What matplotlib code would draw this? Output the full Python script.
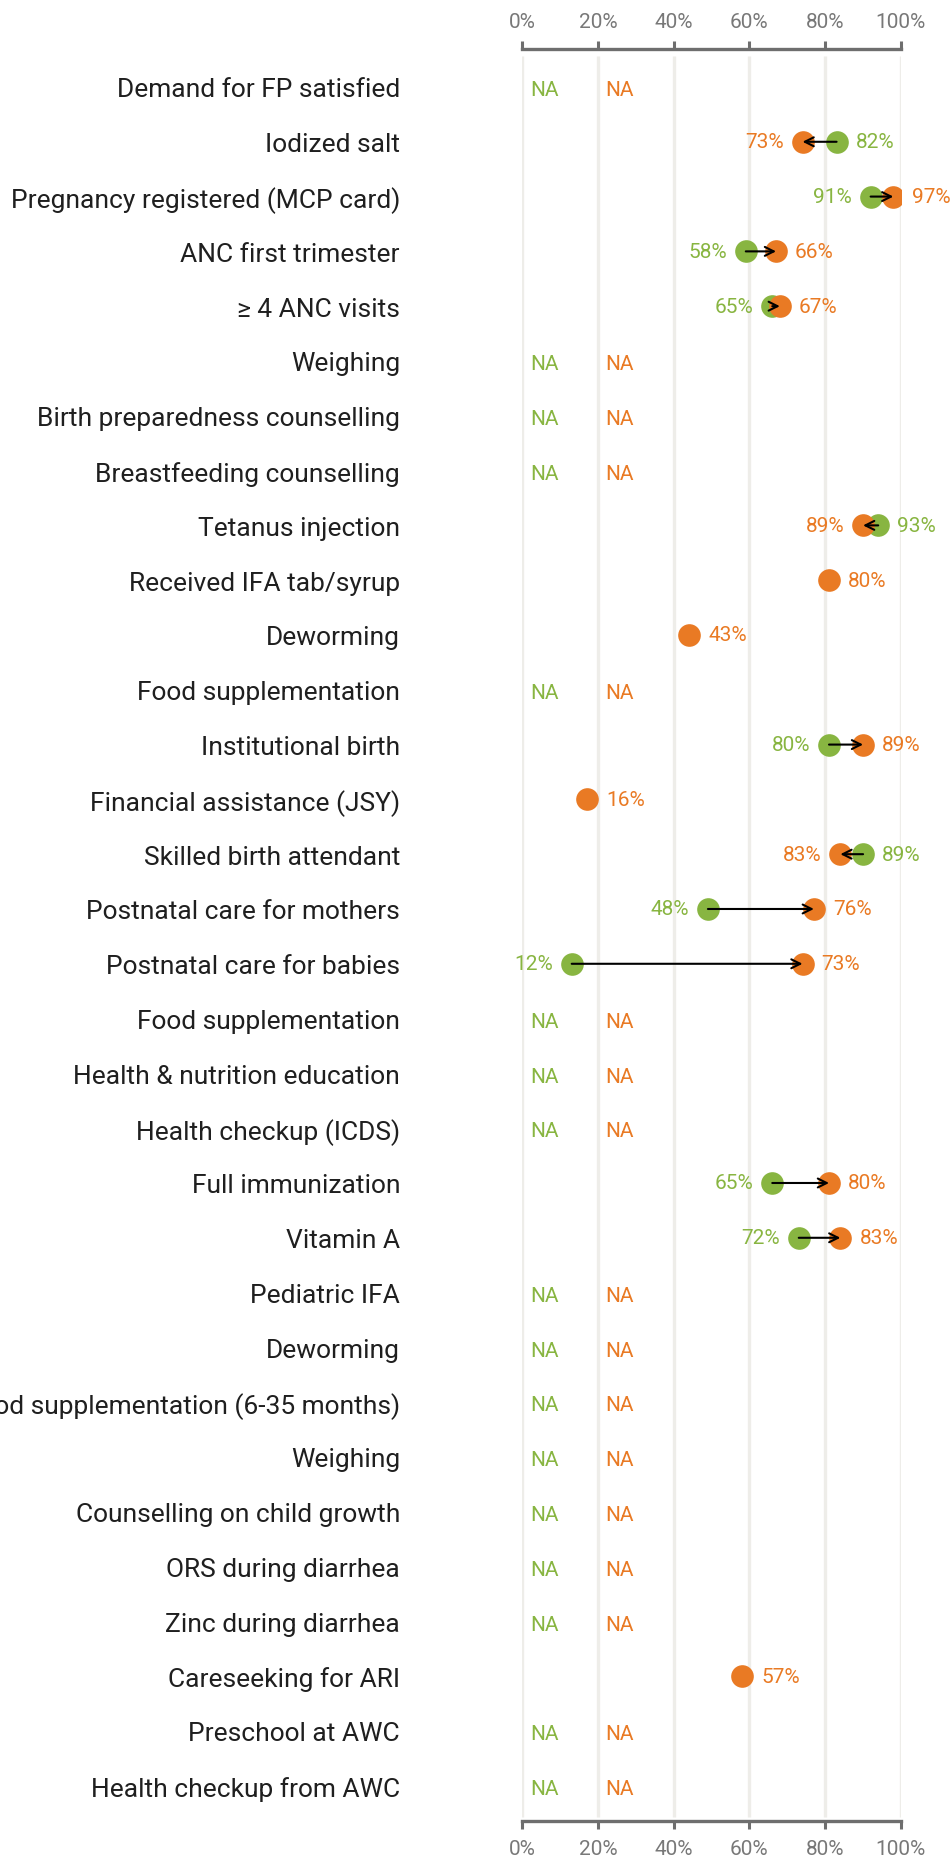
import matplotlib
matplotlib.use('Agg')
import matplotlib.pyplot as plt
from matplotlib.transforms import ScaledTranslation, blended_transform_factory

plt.rcParams['font.family'] = ['Roboto', 'DejaVu Sans']

categories = [
    "Demand for FP satisfied", "Iodized salt", "Pregnancy registered (MCP card)",
    "ANC first trimester", "\u2265 4 ANC visits", "Weighing",
    "Birth preparedness counselling", "Breastfeeding counselling", "Tetanus injection",
    "Received IFA tab/syrup", "Deworming", "Food supplementation",
    "Institutional birth", "Financial assistance (JSY)", "Skilled birth attendant",
    "Postnatal care for mothers", "Postnatal care for babies", "Food supplementation",
    "Health & nutrition education", "Health checkup (ICDS)", "Full immunization",
    "Vitamin A", "Pediatric IFA", "Deworming",
    "Food supplementation (6-35 months)", "Weighing", "Counselling on child growth",
    "ORS during diarrhea", "Zinc during diarrhea", "Careseeking for ARI",
    "Preschool at AWC", "Health checkup from AWC",
]

# 'NA' = shown as NA label, None = no value shown
baseline = ['NA', 82, 91, 58, 65, 'NA', 'NA', 'NA', 93, None, None, 'NA', 80, None, 89,
            48, 12, 'NA', 'NA', 'NA', 65, 72, 'NA', 'NA', 'NA', 'NA', 'NA', 'NA', 'NA',
            None, 'NA', 'NA']
endline = ['NA', 73, 97, 66, 67, 'NA', 'NA', 'NA', 89, 80, 43, 'NA', 89, 16, 83,
           76, 73, 'NA', 'NA', 'NA', 80, 83, 'NA', 'NA', 'NA', 'NA', 'NA', 'NA', 'NA',
           57, 'NA', 'NA']

xticks = [0, 20, 40, 60, 80, 100]
xtick_labels = [f"{v}%" for v in xticks]

GREEN = '#88b541'
ORANGE = '#e97a24'
GRID = '#eeede9'
AXIS = '#6e6e6e'
TICKTXT = '#787878'
LABEL = '#1f1f1f'

W, H = 952, 1856
fig = plt.figure(figsize=(W / 100, H / 100), dpi=100)
ax_left, ax_right = 522.3, 900.7
ax_top, ax_bot = 50, 1821.7
ax = fig.add_axes([ax_left / W, 1 - ax_bot / H, (ax_right - ax_left) / W, (ax_bot - ax_top) / H])

n = len(categories)
ax.set_xlim(0, 100)
ax.set_ylim(n - 1 + 0.637, -0.693)

for s in ['left', 'right']:
    ax.spines[s].set_visible(False)
for s in ['top', 'bottom']:
    ax.spines[s].set_color(AXIS)
    ax.spines[s].set_linewidth(2.4)

ax.set_xticks(xticks)
ax.set_xticklabels(xtick_labels)
ax.tick_params(axis='x', which='both', top=True, bottom=True, labeltop=True, labelbottom=True,
               direction='out', length=5.8, width=2.2, color=AXIS, labelcolor=TICKTXT,
               labelsize=15, pad=7.5)
ax.set_yticks([])

ax.vlines(xticks, -0.566, n - 1 + 0.57, color=GRID, lw=2.4, zorder=0)

tr = ax.transData + ScaledTranslation(0.04, 0, fig.dpi_scale_trans)
lab_tr = blended_transform_factory(fig.transFigure, ax.transData)

for i, cat in enumerate(categories):
    ax.text(400 / W, i, cat, transform=lab_tr, ha='right', va='center_baseline',
            fontsize=19, color=LABEL, clip_on=False)
    g, e = baseline[i], endline[i]
    if g == 'NA':
        ax.text(2, i + 0.05, 'NA', color=GREEN, ha='left', va='center', fontsize=15)
    if e == 'NA':
        ax.text(22, i + 0.05, 'NA', color=ORANGE, ha='left', va='center', fontsize=15)
    gv = g if isinstance(g, (int, float)) else None
    ev = e if isinstance(e, (int, float)) else None
    if gv is not None:
        ax.plot([gv], [i], 'o', ms=16.3, mew=0, color=GREEN, transform=tr, zorder=3)
    if ev is not None:
        ax.plot([ev], [i], 'o', ms=16.3, mew=0, color=ORANGE, transform=tr, zorder=4)
    if gv is not None and ev is not None:
        ax.annotate('', xy=(ev, i), xycoords=tr, xytext=(gv, i), textcoords=tr,
                    arrowprops=dict(arrowstyle='->', color='black', lw=1.5,
                                    shrinkA=0, shrinkB=0, mutation_scale=16),
                    zorder=5)
    pts = [(v, c) for v, c in [(gv, GREEN), (ev, ORANGE)] if v is not None]
    if len(pts) == 2:
        pts.sort(key=lambda p: p[0])
        (lv, lc), (hv, hc) = pts
        ax.annotate(f"{lv}%", xy=(lv, i), xycoords=tr, xytext=(-13.7, 0),
                    textcoords='offset points', ha='right', va='center', fontsize=15, color=lc)
        ax.annotate(f"{hv}%", xy=(hv, i), xycoords=tr, xytext=(13.7, 0),
                    textcoords='offset points', ha='left', va='center', fontsize=15, color=hc)
    elif len(pts) == 1:
        v, c = pts[0]
        ax.annotate(f"{v}%", xy=(v, i), xycoords=tr, xytext=(13.7, 0),
                    textcoords='offset points', ha='left', va='center', fontsize=15, color=c)

fig.savefig('out.png', dpi=100)
